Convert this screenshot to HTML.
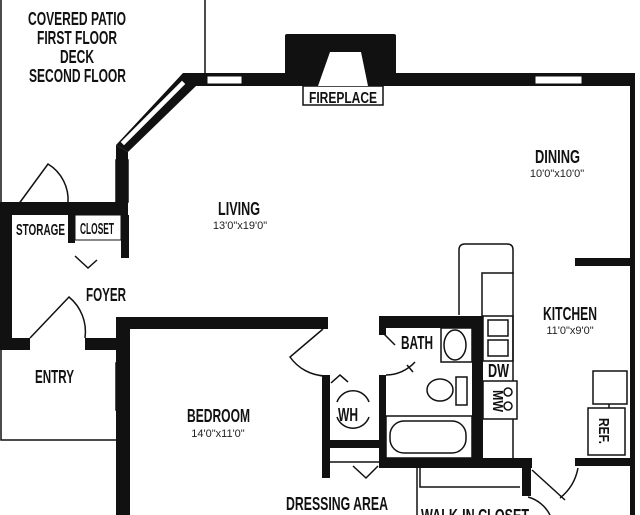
<!DOCTYPE html>
<html><head><style>
html,body{margin:0;padding:0;background:#fff;}
svg{display:block;}
.t{font-family:"Liberation Sans",sans-serif;font-weight:bold;font-size:18px;fill:#111;}
.s{font-family:"Liberation Sans",sans-serif;font-size:11px;fill:#222;}
</style></head><body>
<svg width="640" height="515" viewBox="0 0 640 515" xmlns="http://www.w3.org/2000/svg">
<rect width="640" height="515" fill="#fff"/>
<g fill="none" stroke="#111" stroke-width="1.5">
<polyline points="1,0 1,203"/>
<line x1="205" y1="0" x2="205" y2="76"/>
<polyline points="1,350 1,440 116,440"/>
<rect x="303" y="86" width="80" height="19" fill="#fff"/>
<path d="M18,205 L48,164 A42,42 0 0 1 68,203"/>
<path d="M30,338 L69,297 A45,45 0 0 1 85,338"/>
<path d="M75,256 L88,268 L97,260"/>
<path d="M323,329 L290,357 A45,45 0 0 0 325,376"/>
<path d="M384,334 L395,345 M407,365 L413,372 M386,375 A40,40 0 0 0 415,362"/>
<path d="M331,383 L340,375 L348,382"/>
<path d="M337,402 A17,17 0 0 1 369,402 M337,417 A17,17 0 0 0 369,417"/>
<line x1="329" y1="462" x2="380" y2="462"/>
<path d="M353,466 L366,478 L378,466"/>
<rect x="441" y="328" width="31" height="34"/>
<ellipse cx="455" cy="345" rx="11" ry="15"/>
<ellipse cx="440" cy="390" rx="13" ry="11"/>
<rect x="456" y="377" width="11" height="28"/>
<rect x="386" y="416" width="86" height="42"/>
<rect x="390" y="421" width="76" height="32" rx="14"/>
<path d="M459,315 L459,250 Q459,244 465,244 L507,244 Q513,244 513,250 L513,274"/>
<polyline points="482,316 482,273 513,273 513,381"/>
<rect x="483" y="316" width="30" height="45"/>
<rect x="488" y="320" width="20" height="16"/>
<rect x="488" y="340" width="20" height="16"/>
<rect x="483" y="381" width="34" height="38"/>
<circle cx="508" cy="392" r="4"/>
<circle cx="508" cy="406" r="4"/>
<line x1="513" y1="419" x2="513" y2="458"/>
<rect x="593" y="371" width="34" height="33"/>
<rect x="588" y="408" width="37" height="47"/>
<line x1="609" y1="404" x2="609" y2="408"/>
<path d="M578,468 A50,50 0 0 1 560,498 M532,470 L565,500"/>
<polyline points="420,467 420,487 520,487"/>
<line x1="417" y1="467" x2="417" y2="515"/>
<path d="M528,497 A35,35 0 0 1 550,515"/>
<rect x="116" y="160" width="12" height="42" fill="#fff"/>
<line x1="122" y1="160" x2="122" y2="202"/>
<rect x="116" y="363" width="12" height="47" fill="#fff"/>
<line x1="122" y1="363" x2="122" y2="410"/>
<rect x="1" y="280" width="10" height="25" fill="#fff"/>
<line x1="6" y1="280" x2="6" y2="305"/>
</g>
<g fill="#111">
<rect x="183" y="73" width="452" height="13"/>
<rect x="630" y="73" width="5" height="442"/>
<rect x="285" y="34" width="111" height="52" rx="2"/>
<polygon points="330,52 361,52 368,86 318,86" fill="#fff"/>
<polygon points="183,73 196,86 128,152 116,145"/>
<polygon points="128,152 116,145 116,205 128,205"/>
<rect x="0" y="202" width="128" height="13"/>
<rect x="0" y="202" width="12" height="148"/>
<rect x="68" y="215" width="7" height="28"/>
<rect x="121" y="215" width="8" height="43"/>
<rect x="0" y="338" width="30" height="12"/>
<rect x="85" y="338" width="43" height="12"/>
<rect x="116" y="317" width="14" height="198"/>
<rect x="116" y="317" width="212" height="12"/>
<rect x="322" y="375" width="8" height="103"/>
<rect x="329" y="440" width="51" height="8"/>
<rect x="379" y="316" width="104" height="12"/>
<rect x="379" y="316" width="7" height="19"/>
<rect x="379" y="375" width="7" height="93"/>
<rect x="472" y="316" width="11" height="152"/>
<rect x="379" y="458" width="153" height="10"/>
<rect x="522" y="458" width="9" height="38"/>
<rect x="575" y="258" width="57" height="8"/>
<rect x="575" y="458" width="57" height="8"/>
</g>
<g fill="#fff" stroke="#111" stroke-width="1">
<rect x="207" y="76" width="35" height="8"/>
<rect x="535" y="76" width="47" height="8"/>
<polygon points="186,84 124,146 120,142 182,80"/>
</g>
<rect x="17" y="215" width="51" height="28" fill="#fff"/>
<rect x="75" y="215" width="46" height="25" fill="#fff" stroke="#111" stroke-width="1"/>
<g>
<text class="t" x="28" y="25" textLength="98" lengthAdjust="spacingAndGlyphs">COVERED PATIO</text>
<text class="t" x="37" y="44" textLength="80" lengthAdjust="spacingAndGlyphs">FIRST FLOOR</text>
<text class="t" x="60" y="63" textLength="34" lengthAdjust="spacingAndGlyphs">DECK</text>
<text class="t" x="29" y="82" textLength="97" lengthAdjust="spacingAndGlyphs">SECOND FLOOR</text>
<text class="t" x="309" y="103" textLength="68" lengthAdjust="spacingAndGlyphs" style="font-size:16px">FIREPLACE</text>
<text class="t" x="535" y="163" textLength="45" lengthAdjust="spacingAndGlyphs">DINING</text>
<text class="s" x="557" y="177" text-anchor="middle">10'0"x10'0"</text>
<text class="t" x="218" y="215" textLength="42" lengthAdjust="spacingAndGlyphs">LIVING</text>
<text class="s" x="240" y="229" text-anchor="middle">13'0"x19'0"</text>
<text class="t" x="16" y="235" textLength="49" lengthAdjust="spacingAndGlyphs" style="font-size:16px">STORAGE</text>
<text class="t" x="80" y="234" textLength="34" lengthAdjust="spacingAndGlyphs" style="font-size:16px">CLOSET</text>
<text class="t" x="86" y="301" textLength="40" lengthAdjust="spacingAndGlyphs">FOYER</text>
<text class="t" x="35" y="383" textLength="39" lengthAdjust="spacingAndGlyphs">ENTRY</text>
<text class="t" x="543" y="320" textLength="54" lengthAdjust="spacingAndGlyphs">KITCHEN</text>
<text class="s" x="570" y="334" text-anchor="middle">11'0"x9'0"</text>
<text class="t" x="401" y="349" textLength="32" lengthAdjust="spacingAndGlyphs">BATH</text>
<text class="t" x="488" y="377" textLength="21" lengthAdjust="spacingAndGlyphs">DW</text>
<text class="t" x="338" y="421" textLength="20" lengthAdjust="spacingAndGlyphs">WH</text>
<text class="t" x="187" y="422" textLength="63" lengthAdjust="spacingAndGlyphs">BEDROOM</text>
<text class="s" x="218" y="437" text-anchor="middle">14'0"x11'0"</text>
<text class="t" x="286" y="510" textLength="102" lengthAdjust="spacingAndGlyphs">DRESSING AREA</text>
<text class="t" x="421" y="522" textLength="108" lengthAdjust="spacingAndGlyphs">WALK-IN CLOSET</text>
<text class="t" transform="translate(495,401) rotate(90)" x="-11" y="2" textLength="22" lengthAdjust="spacingAndGlyphs" style="font-size:15px">MW</text>
<text class="t" transform="translate(601,431) rotate(90)" x="-13" y="2" textLength="26" lengthAdjust="spacingAndGlyphs" style="font-size:15px">REF.</text>
</g>
</svg>
</body></html>
